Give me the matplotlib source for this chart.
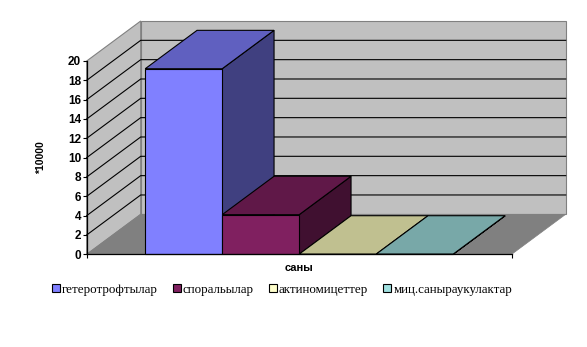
import matplotlib
matplotlib.use("Agg")
import matplotlib.pyplot as plt
from matplotlib.patches import Patch, Polygon

series_names = ["гетеротрофтылар", "споральылар", "актиномицеттер", "миц.саныраукулактар"]
series_values = [19.2, 4.1, 0.02, 0.02]
front_colors = ["#8080ff", "#802060", "#ffffcc", "#a0e0e0"]
top_colors = ["#6060c0", "#601848", "#c0c090", "#78a8a8"]
side_colors = ["#404080", "#401030", "#808060", "#507070"]
y_ticks = list(range(0, 21, 2))

W, H = 587, 347
# pixel layout of the plot box
x0_px, x1_px = 86.7, 511.7
y0_px, y20_px = 254.3, 61.0
u = (y0_px - y20_px) / 20.0
depth_dx = 54.0 / (x1_px - x0_px)
depth_dy = 40.0 / u
bar_depth = 0.96
gap = 0.76

fig = plt.figure(figsize=(W / 100, H / 100), dpi=100)
ax = fig.add_axes([0, 0, 1, 1])
ax.patch.set_visible(False)
ax.set_xlim(-x0_px / (x1_px - x0_px), (W - x0_px) / (x1_px - x0_px))
ax.set_ylim(-(H - y0_px) / u, y0_px / u)


def poly(pts, fc, ec="black", lw=0.8, z=2):
    ax.add_patch(Polygon(pts, closed=True, facecolor=fc, edgecolor=ec, linewidth=lw, zorder=z))


# walls and floor
poly([(0, 0), (depth_dx, depth_dy), (depth_dx, 20 + depth_dy), (0, 20)], "#c0c0c0", "#808080", 0.8, 1)
poly([(depth_dx, depth_dy), (1 + depth_dx, depth_dy), (1 + depth_dx, 20 + depth_dy), (depth_dx, 20 + depth_dy)],
     "#c0c0c0", "#808080", 0.8, 1)
poly([(0, 0), (1, 0), (1 + depth_dx, depth_dy), (depth_dx, depth_dy)], "#808080", "#808080", 0.5, 1.5)

# gridlines
for t in y_ticks[1:-1]:
    ax.plot([0, depth_dx, 1 + depth_dx], [t, t + depth_dy, t + depth_dy], color="black", lw=0.8, zorder=1.8)

# bars, left to right
bar_w = 1.0 / (len(series_values) + 2 * gap)
bdx = depth_dx * bar_depth
bdy = depth_dy * bar_depth
for i, v in enumerate(series_values):
    left = bar_w * (gap + i)
    right = left + bar_w
    z = 3 + i
    poly([(right, 0), (right + bdx, bdy), (right + bdx, v + bdy), (right, v)], side_colors[i], z=z)
    poly([(left, v), (right, v), (right + bdx, v + bdy), (left + bdx, v + bdy)], top_colors[i], z=z)
    poly([(left, 0), (right, 0), (right, v), (left, v)], front_colors[i], z=z)

# axes
for s in ["top", "right"]:
    ax.spines[s].set_visible(False)
ax.spines["left"].set_position(("data", 0))
ax.spines["left"].set_bounds(0, 20)
ax.spines["bottom"].set_position(("data", 0))
ax.spines["bottom"].set_bounds(0, 1)
for s in ["left", "bottom"]:
    ax.spines[s].set_linewidth(0.9)
    ax.spines[s].set_zorder(10)
ax.set_xticks([0, 1])
ax.set_xticklabels(["", ""])
ax.set_yticks(y_ticks)
ax.tick_params(axis="both", length=3, width=0.8, pad=1)
for lab in ax.get_yticklabels():
    lab.set_fontfamily("Liberation Sans")
    lab.set_fontweight("bold")
    lab.set_fontsize(8.5)

ax.text((41.5 - x0_px) / (x1_px - x0_px), (y0_px - 157.5) / u, "*10000", rotation=90,
        ha="center", va="center", family="Liberation Sans", fontweight="bold", fontsize=7.5)
ax.text((299 - x0_px) / (x1_px - x0_px), (y0_px - 268) / u, "саны",
        ha="center", va="center", family="Liberation Sans", fontweight="bold", fontsize=8)

handles = [Patch(facecolor=c, edgecolor="black", linewidth=0.8) for c in front_colors]
fig.legend(handles, series_names, loc="center", bbox_to_anchor=(282 / W, 1 - 289.5 / H), ncol=4, frameon=False,
           prop={"family": "Liberation Serif", "size": 9.4}, handlelength=0.62, handleheight=0.62,
           handletextpad=0.15, columnspacing=1.15, borderpad=0, borderaxespad=0)

fig.savefig("out.png", dpi=100)
